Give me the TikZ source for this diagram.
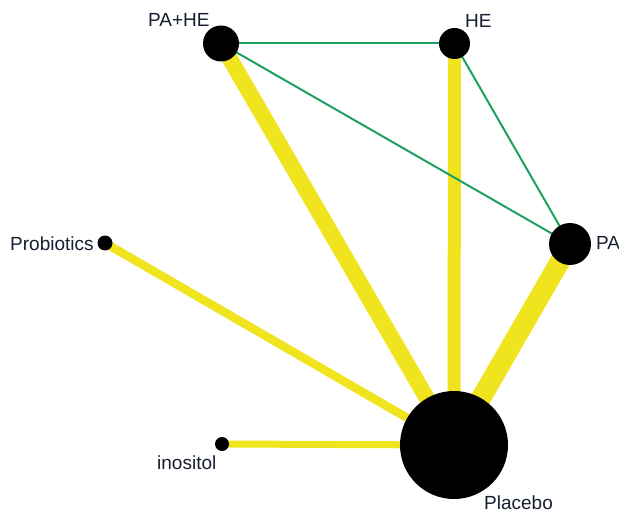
\documentclass[tikz,border=0pt]{standalone}
\usepackage{fontspec}
\setmainfont{Liberation Sans}
\pgfdeclarelayer{background}
\pgfsetlayers{background,main}
\definecolor{edgeyellow}{RGB}{240,228,30}
\definecolor{edgegreen}{RGB}{30,160,95}
\definecolor{labelink}{RGB}{22,30,48}
\tikzset{
  trt/.style={circle, fill=black, inner sep=0pt, minimum size=#1},
  lbl/.style={anchor=base west, inner sep=0pt, text=labelink,
              font=\fontsize{19bp}{22bp}\selectfont},
  direct/.style={draw=edgeyellow, line width=#1},
  indirect/.style={draw=edgegreen, line width=2bp},
}
\begin{document}
\begin{tikzpicture}[x=1bp, y=-1bp]
  \useasboundingbox (0,0) rectangle (619,512);

  % treatments, sized by sample
  \node[trt=36bp] (pahe) at (221,43.5) {};
  \node[trt=31bp] (he)   at (454.5,43.5) {};
  \node[trt=42bp] (pa)   at (570,244) {};
  \node[trt=15bp] (pro)  at (105,243) {};
  \node[trt=14bp] (ino)  at (222,444) {};
  \node[trt=108bp] (pla) at (454,445) {};

  % labels
  \node[lbl] (tpahe) at (148,27)  {PA+HE};
  \node[lbl] (the)   at (465,28)  {HE};
  \node[lbl] (tpa)   at (596,249.5) {PA};
  \node[lbl] (tpro)  at (10,250.5) {Probiotics};
  \node[lbl] (tino)  at (157,469) {inositol};
  \node[lbl] (tpla)  at (484,509) {Placebo};

  % comparisons
  \begin{pgfonlayer}{background}
    \draw[direct=16bp] (pahe.center) -- (pla.center);
    \draw[direct=13bp] (he.center)   -- (pla.center);
    \draw[direct=20bp] (pa.center)   -- (pla.center);
    \draw[direct=8.5bp] (pro.center) -- (pla.center);
    \draw[direct=7bp]  (ino.center)  -- (pla.center);
    \draw[indirect] (pahe.center) -- (he.center);
    \draw[indirect] (pahe.center) -- (pa.center);
    \draw[indirect] (he.center)   -- (pa.center);
  \end{pgfonlayer}
\end{tikzpicture}
\end{document}
